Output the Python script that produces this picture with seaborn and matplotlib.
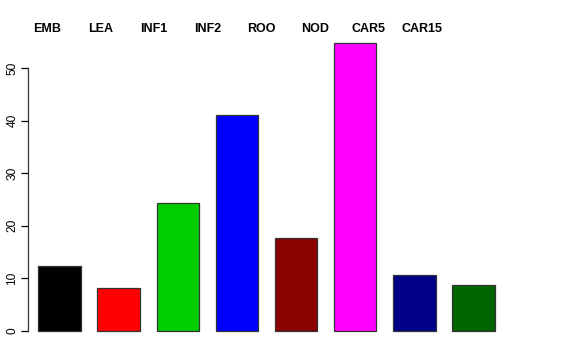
import numpy as np
import pandas as pd
import matplotlib
matplotlib.use("Agg")
import matplotlib.pyplot as plt
import matplotlib.transforms as mtransforms
import seaborn as sns

# ----------------------------------------------------------
# Data
# ----------------------------------------------------------
tissues = ["EMB", "LEA", "INF1", "INF2", "ROO", "NOD", "CAR5", "CAR15"]
counts = [12.35, 8.1, 24.3, 41.1, 17.6, 54.75, 10.6, 8.8]
bar_colors = ["#000000", "#FF0000", "#00CD00", "#0000FF",
              "#8B0000", "#FF00FF", "#00008B", "#006400"]
y_ticks = [0, 10, 20, 30, 40, 50]

df = pd.DataFrame({"tissue": tissues, "count": counts})

sns.set_style("white")
plt.rcParams["font.family"] = ["Liberation Sans", "DejaVu Sans"]
plt.rcParams["text.color"] = "black"
plt.rcParams["ytick.color"] = "black"
plt.rcParams["ytick.labelcolor"] = "black"

fig = plt.figure(figsize=(5.76, 3.6), dpi=100)
# axes placed like the R plot region
ax = fig.add_axes([28 / 576, 1 - 342.5 / 360, (505 - 28) / 576, 311 / 360])

sns.barplot(data=df, x="tissue", y="count", hue="tissue", palette=bar_colors,
            order=tissues, hue_order=tissues, width=0.716, legend=False,
            edgecolor="#333333", linewidth=0.9, saturation=1, ax=ax)

ax.set_xlim(-0.532, 7.532)
ax.set_ylim(-2.19, 56.94)

# y axis like R: line only between first and last tick
for s in ["top", "right", "bottom"]:
    ax.spines[s].set_visible(False)
ax.spines["left"].set_bounds(0, 50)
ax.spines["left"].set_color("#333333")
ax.spines["left"].set_linewidth(0.9)
ax.set_yticks(y_ticks)
ax.set_yticklabels([str(t) for t in y_ticks], rotation=90, va="center",
                   fontsize=8.6, color="black")
ax.tick_params(axis="y", direction="out", length=5, width=0.9, pad=2, left=True,
               color="black")
ax.set_xticks([])
ax.set_xlabel("")
ax.set_ylabel("")

# category names along the top
trans = mtransforms.blended_transform_factory(ax.transData, fig.transFigure)
for i, name in enumerate(tissues):
    ax.text(-0.21 + 0.906 * i, 1 - 29.5 / 360, name, transform=trans,
            ha="center", va="center", fontsize=9, fontweight="bold", color="black")

fig.savefig("out.png", dpi=100)
